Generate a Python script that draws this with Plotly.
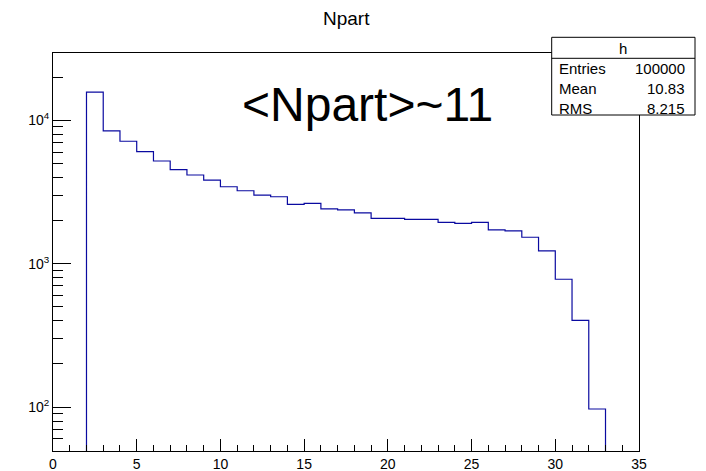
import plotly.graph_objects as go

# ---------------- data ----------------
bin_edges = list(range(0, 36))
counts = [0, 0, 15740, 8445, 7152, 6050, 5210, 4529, 4159, 3837, 3444, 3229,
          3013, 2933, 2594, 2636, 2416, 2378, 2265, 2070, 2070, 2037, 2037,
          1941, 1910, 1941, 1721, 1693, 1531, 1229, 780, 403, 97, 0, 0]
x_tick_vals = [0, 5, 10, 15, 20, 25, 30, 35]
y_tick_vals = [100, 1000, 10000]
y_tick_text = ["10<sup>2</sup>", "10<sup>3</sup>", "10<sup>4</sup>"]
y_minor_vals = [50, 60, 70, 80, 90, 200, 300, 400, 500, 600, 700, 800, 900,
                2000, 3000, 4000, 5000, 6000, 7000, 8000, 9000, 20000]
stats_title = "h"
stats_names = ["Entries", "Mean", "RMS"]
stats_values = ["100000", "10.83", "8.215"]
title_text = "Npart"
note_text = "<Npart>~11"

FONT = "Liberation Sans, Arial, Helvetica, sans-serif"
W, H = 706, 471
L, R, T, B = 53, 67, 53, 20
pw, ph = W - L - R, H - T - B

def px(xp):
    return (xp - L) / pw

def py(yp):
    return (H - B - yp) / ph

# histogram line (empty bins pushed below the visible range)
ys = [c if c > 0 else 1e-3 for c in counts]
ys = ys + [ys[-1]]

fig = go.Figure()
fig.add_trace(go.Scatter(
    x=bin_edges, y=ys, mode="lines", line_shape="hv",
    line=dict(color="#0a0aa0", width=1.2), showlegend=False, hoverinfo="skip"))

fig.update_layout(
    width=W, height=H,
    margin=dict(l=L, r=R, t=T, b=B, autoexpand=False),
    paper_bgcolor="white", plot_bgcolor="white",
    font=dict(family=FONT, color="black"),
    showlegend=False,
)
fig.update_xaxes(
    range=[0, 35], tickmode="array", tickvals=x_tick_vals, automargin=False,
    ticks="inside", ticklen=12, tickcolor="black", tickwidth=1,
    minor=dict(dtick=1, tick0=0, ticks="inside", ticklen=6, tickcolor="black", tickwidth=1, showgrid=False),
    showline=True, linecolor="black", linewidth=1, mirror=True,
    showgrid=False, zeroline=False, tickfont=dict(size=14, family=FONT),
)
fig.update_yaxes(
    type="log", range=[1.694, 4.47], automargin=False,
    tickmode="array", tickvals=y_tick_vals, ticktext=y_tick_text,
    ticks="inside", ticklen=18, tickcolor="black", tickwidth=1,
    minor=dict(tickmode="array", tickvals=y_minor_vals, ticks="inside", ticklen=10,
               tickcolor="black", tickwidth=1, showgrid=False),
    showline=True, linecolor="black", linewidth=1, mirror=True,
    showgrid=False, zeroline=False, tickfont=dict(size=14, family=FONT),
)

# stats box
fig.add_shape(type="rect", xref="paper", yref="paper",
              x0=px(551.7), x1=px(695), y0=py(115), y1=py(37.3),
              line=dict(color="black", width=1), fillcolor="white", layer="above")
fig.add_shape(type="line", xref="paper", yref="paper",
              x0=px(551.7), x1=px(695), y0=py(58.3), y1=py(58.3),
              line=dict(color="black", width=1), layer="above")

ann = []
ann.append(dict(text=title_text, x=px(346), y=py(19), xref="paper", yref="paper",
                xanchor="center", yanchor="middle", showarrow=False,
                font=dict(size=19, family=FONT)))
ann.append(dict(text=note_text.replace("<", "&lt;").replace(">", "&gt;"),
                x=px(367.5), y=py(104), xref="paper", yref="paper",
                xanchor="center", yanchor="middle", showarrow=False,
                font=dict(size=48, family=FONT)))
ann.append(dict(text=stats_title, x=px(623), y=py(48), xref="paper", yref="paper",
                xanchor="center", yanchor="middle", showarrow=False,
                font=dict(size=15, family=FONT)))
rows_y = [69, 89, 108]
for name, val, yy in zip(stats_names, stats_values, rows_y):
    ann.append(dict(text=name, x=px(557), y=py(yy), xref="paper", yref="paper",
                    xanchor="left", yanchor="middle", showarrow=False,
                    font=dict(size=15, family=FONT)))
    ann.append(dict(text=val, x=px(687), y=py(yy), xref="paper", yref="paper",
                    xanchor="right", yanchor="middle", showarrow=False,
                    font=dict(size=15, family=FONT)))
fig.update_layout(annotations=ann)

fig.write_html("out.html")
